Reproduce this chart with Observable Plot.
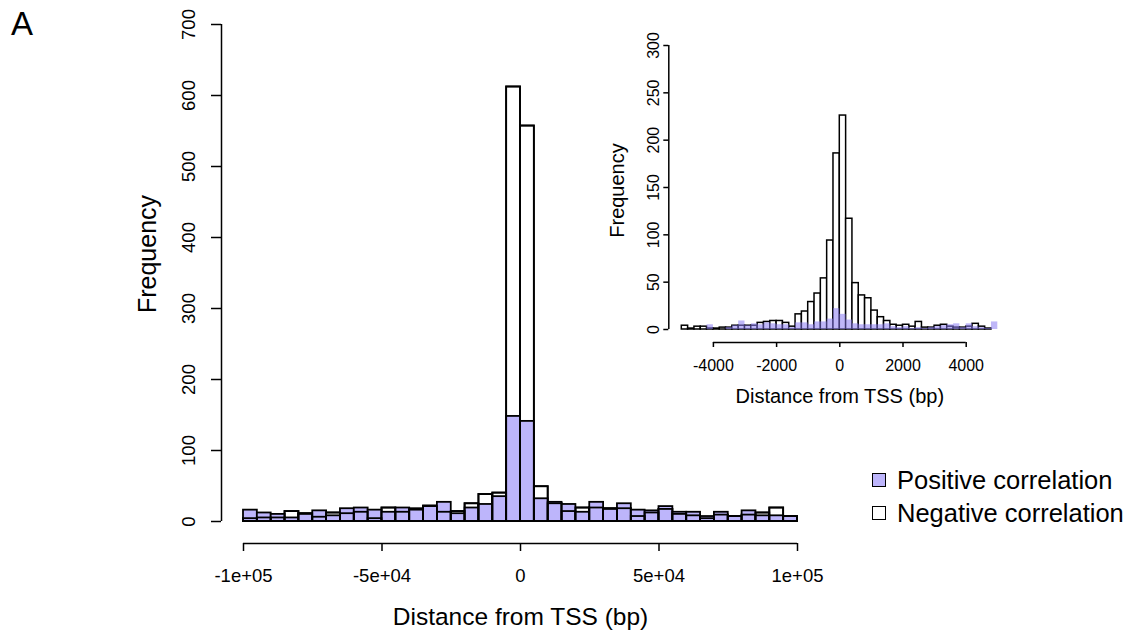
<!DOCTYPE html>
<html><head><meta charset="utf-8">
<script src="https://cdn.jsdelivr.net/npm/d3@7"></script>
<script src="https://cdn.jsdelivr.net/npm/@observablehq/plot@0.6"></script>
<style>
body{margin:0;background:#fff;font-family:"Liberation Sans",Arial,sans-serif;}
#wrap{position:relative;width:1135px;height:635px;overflow:hidden;}
#wrap svg{position:absolute;left:0;top:0;}
.lbl{position:absolute;color:#000;white-space:nowrap;}
.sw{position:absolute;width:12px;height:12px;border:1.5px solid #000;}
</style></head><body><div id="wrap"></div>
<script>
// ---- main histogram (bin width 5000 bp) ----
const mainBinStart = -100000, mainBinEnd = 100000, mainBinWidth = 5000;
const mainPositive = [16,12,10,5,10,15,8,18,19,16,13,19,18,22,27,11,19,24,35,148,141,32,27,24,13,27,17,25,16,15,21,13,13,7,13,7,15,8,8,7];
const mainNegative = [4,5,5,14,11,6,12,11,13,4,19,13,16,21,13,14,25,38,40,612,557,49,25,14,19,19,18,18,7,12,17,10,8,4,9,7,9,12,19,7];
const mainXTicks = [-100000,-50000,0,50000,100000];
const mainXTickLabels = ["-1e+05","-5e+04","0","5e+04","1e+05"];
const mainYTicks = [0,100,200,300,400,500,600,700];

// ---- inset histogram (bin width 200 bp) ----
const insetBinStart = -5000, insetBinEnd = 5000, insetBinWidth = 200;
const insetPositive = [0,0,0,0,5,0,0,2,4,9,4,6,5,7,6,5,5,2,7,7,5,8,8,11,22,16,10,6,5,5,5,5,6,3,2,3,1,2,1,2,3,4,5,6,2,6,3,2,1,8];
const insetNegative = [4,1,3,3,1,1,2,2,4,4,4,4,7,8,9,9,7,3,16,19,29,38,54,94,186,226,117,49,36,33,20,13,9,5,4,5,3,8,2,2,4,5,3,2,2,3,6,3,1,0];
const insetXTicks = [-4000,-2000,0,2000,4000];
const insetYTicks = [0,50,100,150,200,250,300];

const seriesNames = ["Positive correlation","Negative correlation"];
const seriesColors = ["#bdb5fb","#ffffff"];

const mainEdges = d3.range(mainBinStart, mainBinEnd + 1, mainBinWidth);
const mainRows = mainPositive.map((p,i)=>({x1:mainEdges[i],x2:mainEdges[i+1],pos:p,neg:mainNegative[i]}));
const insetEdges = d3.range(insetBinStart, insetBinEnd + 1, insetBinWidth);
const insetRows = insetPositive.map((p,i)=>({x1:insetEdges[i],x2:insetEdges[i+1],pos:p,neg:insetNegative[i]}));

const font = "Liberation Sans, Arial, sans-serif";
const wrap = document.getElementById("wrap");

const mainPlot = Plot.plot({
  width:1135, height:635,
  marginLeft:243, marginRight:338, marginTop:24, marginBottom:114,
  x:{domain:[mainBinStart, mainBinEnd], axis:null},
  y:{domain:[0,700], axis:null},
  style:{fontFamily:font, background:"transparent", color:"#000", overflow:"visible"},
  marks:[
    Plot.rect(mainRows,{x1:"x1",x2:"x2",y1:0,y2:"neg",fill:seriesColors[1],stroke:"#000",strokeWidth:1.8}),
    Plot.rect(mainRows,{x1:"x1",x2:"x2",y1:0,y2:"pos",fill:seriesColors[0],stroke:"#000",strokeWidth:1.8}),
    Plot.rect(mainRows,{x1:"x1",x2:"x2",y1:0,y2:"neg",fill:"none",stroke:"#000",strokeWidth:1.8}),
    Plot.ruleY([0],{x1:mainXTicks[0],x2:mainXTicks[mainXTicks.length-1],dy:22,strokeWidth:1.5}),
    Plot.axisX({ticks:mainXTicks,tickFormat:(d)=>mainXTickLabels[mainXTicks.indexOf(d)],tickSize:8,tickPadding:17,dy:22,fontSize:18.5,label:null,strokeWidth:1.5}),
    Plot.ruleX([mainXTicks[0]],{y1:mainYTicks[0],y2:mainYTicks[mainYTicks.length-1],dx:-22,strokeWidth:1.5}),
    Plot.axisY({ticks:mainYTicks,tickSize:10,tickPadding:17,dx:-22,tickRotate:-90,fontSize:18.5,label:null,strokeWidth:1.5}),
    Plot.text(["Distance from TSS (bp)"],{frameAnchor:"bottom",dy:96,fontSize:24.5,lineAnchor:"middle",textAnchor:"middle"}),
    Plot.text(["Frequency"],{frameAnchor:"left",dx:-96,dy:-19,rotate:-90,fontSize:25,lineAnchor:"middle",textAnchor:"middle"})
  ]
});
wrap.appendChild(mainPlot);

const insetPlot = Plot.plot({
  width:1135, height:635,
  marginLeft:681.3, marginRight:137.7, marginTop:45, marginBottom:306,
  x:{domain:[insetBinStart, insetBinEnd], axis:null},
  y:{domain:[0,300], axis:null},
  style:{fontFamily:font, background:"transparent", color:"#000", overflow:"visible"},
  marks:[
    Plot.rect(insetRows,{x1:"x1",x2:"x2",y1:0,y2:"neg",fill:"#fff",stroke:"#000",strokeWidth:1.5}),
    Plot.rect(insetRows,{x1:"x1",x2:"x2",y1:0,y2:"pos",fill:"#8a7cf2",fillOpacity:0.55}),
    Plot.ruleY([0],{x1:insetXTicks[0],x2:insetXTicks[insetXTicks.length-1],dy:13,strokeWidth:1.5}),
    Plot.axisX({ticks:insetXTicks,tickFormat:d=>String(d),tickSize:5,tickPadding:12,dy:13,fontSize:16,label:null,strokeWidth:1.5}),
    Plot.ruleX([insetBinStart],{y1:insetYTicks[0],y2:insetYTicks[insetYTicks.length-1],dx:-13,strokeWidth:1.5}),
    Plot.axisY({ticks:insetYTicks,tickSize:5,tickPadding:5,dx:-13,tickRotate:-90,fontSize:16,label:null,strokeWidth:1.5}),
    Plot.text(["Distance from TSS (bp)"],{frameAnchor:"bottom",dy:67,fontSize:20,lineAnchor:"middle",textAnchor:"middle"}),
    Plot.text(["Frequency"],{frameAnchor:"left",dx:-64,dy:3,rotate:-90,fontSize:20,lineAnchor:"middle",textAnchor:"middle"})
  ]
});
wrap.appendChild(insetPlot);

// panel letter
const A = document.createElement("div");
A.className="lbl"; A.textContent="A";
A.style.cssText += "left:11px;top:5px;font-size:33px;";
wrap.appendChild(A);

// legend
seriesNames.forEach((name,i)=>{
  const sw=document.createElement("div");
  sw.className="sw"; sw.style.left="872px"; sw.style.top=(473+i*33)+"px"; sw.style.background=seriesColors[i];
  wrap.appendChild(sw);
  const t=document.createElement("div");
  t.className="lbl"; t.textContent=name;
  t.style.left="897px"; t.style.top=(465+i*33)+"px"; t.style.fontSize="25.5px"; t.style.lineHeight="30px";
  wrap.appendChild(t);
});
</script>
</body></html>
